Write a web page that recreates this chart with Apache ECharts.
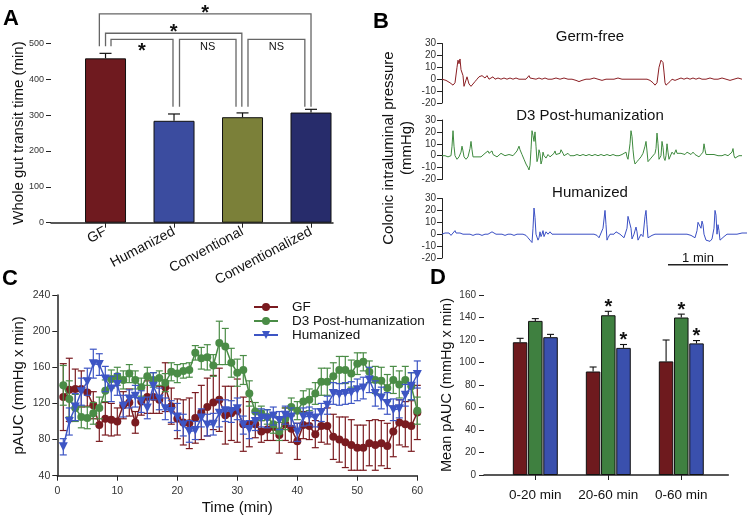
<!DOCTYPE html>
<html><head><meta charset="utf-8">
<script src="https://cdn.jsdelivr.net/npm/echarts@6/dist/echarts.min.js"></script>
<style>html,body{margin:0;padding:0;background:#fff}#c{width:750px;height:521px}</style>
</head><body><div id="c"></div><script>
const FF = '"Liberation Sans", Arial, Helvetica, sans-serif';

// ---------- Panel A ----------
const groupsA = ['GF', 'Humanized', 'Conventional', 'Conventionalized'];
const transitA = [458, 284, 294, 307];
const transitErrA = [14, 19, 12, 9];
const colorsA = ['#6f1a1f', '#3b4c9f', '#7b8039', '#272c6b'];
// significance brackets: x in group units, y in minutes
const bracketsA = [
  { x1: -0.09, x2: 3.0, top: 582, foot1: 492, foot2: 323, label: '*', below: false },
  { x1: 0.0, x2: 1.99, top: 528, foot1: 492, foot2: 323, label: '*', below: false },
  { x1: 0.08, x2: 0.985, top: 511, foot1: 492, foot2: 323, label: '*', below: true },
  { x1: 1.08, x2: 1.905, top: 511, foot1: 323, foot2: 323, label: 'NS', below: true },
  { x1: 2.08, x2: 2.91, top: 511, foot1: 323, foot2: 323, label: 'NS', below: true }
];

// ---------- Panel B (time in s, pressure in mmHg) ----------
const traceGF = [[0,0],[4,-1],[8,-3],[11,-5],[13,-3],[15,10],[16,16],[17,13],[18,17],[19,8],[20,9],[21,3],[22,-6],[23,-7],[25,2],[26,3],[27,-4],[29,-6],[31,-5],[33,-2],[35,0],[37,2],[39,1],[40,3],[41,2],[42,4],[43,1],[45,3],[47,0],[49,1],[51,2],[53,0],[56,1],[59,0],[62,1],[65,0],[68,1],[71,0],[74,1],[77,0],[80,0],[84,0],[86,1],[87,3],[88,1],[90,0],[94,0],[97,1],[100,0],[103,1],[106,0],[110,0],[114,1],[118,0],[122,1],[126,0],[130,0],[134,-1],[137,-2],[140,-1],[144,0],[148,0],[152,1],[156,0],[160,-1],[164,0],[168,0],[172,0],[176,1],[180,0],[185,0],[190,0],[195,0],[200,0],[205,0],[208,-1],[211,-3],[213,-5],[215,-3],[217,10],[219,16],[221,14],[222,6],[223,-3],[224,-5],[226,-4],[228,-2],[230,0],[233,-1],[236,0],[239,1],[242,0],[245,1],[248,0],[251,1],[254,0],[257,1],[260,0],[264,0],[268,1],[272,0],[276,0],[280,1],[284,0],[288,-1],[292,0],[296,1],[300,0]];
const traceD3 = [[0,0],[3,0],[6,-1],[9,0],[10,8],[11,21],[12,8],[13,0],[15,-3],[17,-1],[19,3],[20,8],[21,4],[22,-1],[24,-3],[26,-1],[28,6],[29,12],[30,5],[31,-1],[33,-2],[35,-1],[37,0],[39,-1],[41,0],[43,2],[44,3],[45,1],[46,4],[47,2],[48,3],[49,2],[50,4],[51,1],[53,0],[55,-1],[57,0],[59,2],[61,1],[63,0],[65,0],[67,1],[69,0],[71,0],[73,1],[75,4],[77,8],[78,5],[80,1],[82,-3],[84,-7],[86,-10],[87,-12],[88,-8],[89,5],[90,21],[91,17],[92,12],[93,20],[94,8],[95,-5],[96,-2],[97,5],[98,2],[99,-7],[100,-4],[101,3],[102,0],[104,-2],[106,1],[108,-1],[110,0],[112,2],[113,4],[114,1],[116,0],[118,2],[119,5],[120,6],[121,2],[122,0],[124,1],[126,2],[128,0],[130,1],[132,0],[135,1],[138,0],[141,1],[144,0],[147,1],[150,0],[153,1],[156,0],[159,1],[162,0],[165,1],[168,0],[171,1],[174,0],[177,0],[180,1],[182,2],[184,3],[185,-1],[186,-3],[188,10],[189,21],[190,16],[191,5],[192,-3],[193,-7],[195,-5],[197,-3],[199,-1],[201,2],[203,8],[204,12],[205,4],[206,-5],[207,-4],[209,-2],[211,-1],[213,2],[214,6],[215,19],[216,10],[217,-3],[218,-4],[219,0],[220,12],[221,7],[222,-2],[223,-4],[224,0],[225,10],[226,3],[227,-3],[228,-2],[230,3],[232,1],[234,5],[235,2],[237,1],[239,2],[241,3],[243,1],[245,3],[247,2],[249,1],[251,3],[253,1],[255,0],[257,-1],[259,1],[261,3],[262,10],[263,5],[264,1],[266,0],[268,1],[270,2],[272,1],[274,0],[276,0],[278,1],[280,0],[283,1],[286,0],[288,1],[290,3],[291,6],[292,0],[293,-2],[295,-1],[297,0],[300,0]];
const traceHum = [[0,0],[3,1],[5,0],[7,1],[9,-1],[11,1],[13,3],[14,1],[16,0],[18,1],[20,2],[21,0],[23,1],[25,0],[28,0],[31,-1],[34,0],[37,0],[40,-1],[43,0],[46,0],[48,1],[50,2],[52,1],[54,0],[57,0],[60,0],[63,-1],[66,0],[69,0],[72,-1],[75,0],[78,0],[81,0],[84,-1],[86,-3],[88,-5],[90,-7],[91,5],[92,22],[93,14],[94,0],[96,-5],[97,-3],[98,2],[99,-2],[100,0],[101,3],[102,-2],[103,-3],[104,2],[106,0],[108,2],[110,0],[113,0],[116,0],[120,0],[124,0],[128,0],[132,0],[136,0],[140,0],[144,0],[148,0],[152,0],[155,-1],[157,-3],[159,-2],[161,5],[163,20],[164,8],[165,-5],[166,-3],[168,0],[170,1],[172,0],[174,2],[176,1],[178,0],[180,-1],[182,-3],[184,-4],[185,5],[186,15],[188,14],[189,5],[190,-4],[191,-5],[192,0],[194,6],[195,2],[196,-5],[197,-4],[199,0],[201,-2],[203,15],[204,20],[205,8],[206,-3],[208,-2],[210,-1],[213,0],[216,0],[220,0],[225,0],[230,0],[235,0],[240,0],[245,0],[249,-1],[251,-2],[253,-3],[255,3],[256,10],[258,10],[259,5],[260,11],[261,8],[262,0],[264,-5],[266,-5],[268,-6],[270,-4],[272,5],[273,20],[274,16],[275,0],[276,8],[277,3],[278,-5],[280,-4],[282,-2],[285,0],[290,0],[295,0],[300,1],[305,1]];
const titlesB = ['Germ-free', 'D3 Post-humanization', 'Humanized'];
const scaleBarB = [226, 286]; // 60 s = 1 min

// ---------- Panel C ----------
const minutesC = [1,2,3,4,5,6,7,8,9,10,11,12,13,14,15,16,17,18,19,20,21,22,23,24,25,26,27,28,29,30,31,32,33,34,35,36,37,38,39,40,41,42,43,44,45,46,47,48,49,50,51,52,53,54,55,56,57,58,59,60];
const gfC = [127,135,136,136,132,118,96,103,102,100, 118,121,99,122,127,127,124,138,117,103, 99,98,104,110,116,121,124,107,109,112, 97,97,97,89,91,94,85,97,92,78, 96,95,86,95,95,83,80,77,74,71, 71,76,74,76,73,89,99,97,95,110];
const gfErrC = [37,35,22,20,15,15,18,18,18,15, 15,15,12,15,18,18,15,27,20,22, 25,28,28,30,32,30,35,32,30,35, 30,25,15,12,12,15,20,18,15,20, 15,15,15,18,20,25,25,28,28,25, 25,25,28,25,25,28,25,25,28,30];
const d3C = [140,125,115,105,104,109,115,134,147,150, 146,153,146,138,150,146,148,143,155,153, 156,157,176,170,171,162,187,183,165,154, 157,131,111,109,105,97,89,103,116,112, 122,124,131,144,144,150,157,157,153,164, 166,155,146,145,137,146,141,146,139,112];
const d3ErrC = [22,20,15,12,12,12,12,12,10,10, 10,10,10,10,10,8,8,10,10,10, 8,8,8,12,14,12,24,20,16,15, 16,14,10,8,8,10,10,12,10,10, 12,12,12,15,15,15,15,15,15,12, 10,12,15,15,15,15,15,15,15,15];
const humC = [72,100,116,133,144,164,163,147,136,141, 117,125,128,122,115,139,125,114,111,105, 96,89,90,104,96,97,109,112,111,114, 96,91,100,104,103,106,101,107,105,88, 105,106,104,110,118,131,130,131,132,135, 137,146,131,126,120,113,114,129,139,152];
const humErrC = [9,15,15,15,15,16,12,14,14,12, 12,10,12,12,12,15,12,12,12,15, 12,12,10,10,12,12,15,12,12,12, 10,10,10,10,10,10,10,10,10,10, 10,10,10,10,10,12,12,12,12,12, 12,14,14,12,12,12,10,12,15,15];
const namesC = ['GF', 'D3 Post-humanization', 'Humanized'];

// ---------- Panel D ----------
const periodsD = ['0-20 min', '20-60 min', '0-60 min'];
const gfD = [118, 92, 101];
const gfErrD = [3.5, 4, 19];
const d3D = [137, 142, 140];
const d3ErrD = [2, 3.5, 3];
const d3SigD = [0, 1, 1];
const humD = [122.5, 113, 117];
const humErrD = [2.5, 3, 2.5];
const humSigD = [0, 1, 1];

const RED = '#6e1a1e', GREEN = '#3f8040', BLUE = '#3a50ad';
const RED_C = '#7a1b20', GREEN_C = '#4a8c46', BLUE_C = '#3d55c4';

function txt(o) {
  return Object.assign({ align: o.align, verticalAlign: o.verticalAlign, textAlign: o.align, textVerticalAlign: o.verticalAlign }, o);
}

function errBars(name, xIdx, yIdx, xs, vals, errs, color, o) {
  const stars = o.stars || xs.map(() => 0);
  return {
    name: name, type: 'custom', xAxisIndex: xIdx, yAxisIndex: yIdx, z: o.z || 2, silent: true,
    data: xs.map((x, i) => [x, vals[i], errs[i]]),
    renderItem: function (params, api) {
      const x = api.value(0), v = api.value(1), e = api.value(2);
      const p1 = api.coord([x, v + e]);
      const p0 = api.coord([x, o.up ? v : v - e]);
      const cx = p1[0] + (o.dx || 0), hw = o.cap / 2;
      const st = () => ({ stroke: color, lineWidth: o.lw || 1 });
      const ch = [
        { type: 'line', shape: { x1: cx, y1: p0[1], x2: cx, y2: p1[1] }, style: st() },
        { type: 'line', shape: { x1: cx - hw, y1: p1[1], x2: cx + hw, y2: p1[1] }, style: st() }
      ];
      if (!o.up) ch.push({ type: 'line', shape: { x1: cx - hw, y1: p0[1], x2: cx + hw, y2: p0[1] }, style: st() });
      if (stars[params.dataIndex] === 1) ch.push({ type: 'text', x: cx, y: p1[1] - o.starGap,
        style: txt({ text: '*', font: 'bold 20px ' + FF, fill: '#111', align: 'center', verticalAlign: 'middle' }) });
      return { type: 'group', children: ch };
    }
  };
}

const idxA = groupsA.map((_, i) => i);
const idxD = periodsD.map((_, i) => i);

const tickLbl = (fs) => ({ fontSize: fs, color: '#333', fontFamily: FF });
const axisNm = (fs) => ({ fontSize: fs, color: '#111', fontFamily: FF });

const bAxisY = (gi) => ({
  gridIndex: gi, type: 'value', min: -20, max: 30, interval: 10,
  axisLine: { show: true, onZero: false, lineStyle: { color: '#222', width: 1 } },
  axisTick: { show: true, length: 5, lineStyle: { color: '#222' } },
  axisLabel: Object.assign({ margin: 6 }, tickLbl(10)), splitLine: { show: false }
});
const bAxisX = (gi) => ({ gridIndex: gi, type: 'value', min: 0, max: 305, show: false, axisLine: { onZero: false } });

const legendRow = (name, top) => ({
  data: [name], left: 253, top: top, orient: 'horizontal', itemWidth: 24, itemHeight: 10, padding: 0,
  textStyle: { fontSize: 13.5, color: '#111', fontFamily: FF, padding: [0, 0, 0, 9] }
});

const option = {
  animation: false,
  backgroundColor: '#fff',
  textStyle: { fontFamily: FF },
  grid: [
    { left: 51, top: 43.3, width: 282, height: 179.4 },     // 0 A values
    { left: 71.25, top: 43.3, width: 274, height: 179.4 },  // 1 A categories
    { left: 442, top: 43.5, width: 305, height: 59.5 },     // 2 B top
    { left: 442, top: 120, width: 305, height: 59.5 },      // 3 B mid
    { left: 442, top: 198.5, width: 305, height: 59.5 },    // 4 B bottom
    { left: 57.3, top: 295, width: 360, height: 180.7 },    // 5 C
    { left: 484, top: 295, width: 244.3, height: 180 },     // 6 D values
    { left: 498.8, top: 295, width: 219, height: 180 }      // 7 D categories
  ],
  xAxis: [
    { gridIndex: 0, type: 'value', min: -0.796, max: 3.321, axisLine: { show: true, onZero: false, lineStyle: { color: '#222', width: 1.5 } },
      axisTick: { show: false }, axisLabel: { show: false }, splitLine: { show: false } },
    { gridIndex: 1, type: 'category', data: groupsA, axisLine: { show: false, onZero: false },
      axisTick: { show: true, alignWithLabel: true, length: 5, lineStyle: { color: '#222' } },
      axisLabel: Object.assign({ rotate: 28, margin: 8, interval: 0 }, tickLbl(14), { color: '#111' }) },
    bAxisX(2), bAxisX(3), bAxisX(4),
    { gridIndex: 5, type: 'value', min: 0, max: 60, interval: 10,
      axisLine: { show: true, onZero: false, lineStyle: { color: '#222', width: 1.5 } },
      axisTick: { show: true, length: 5, lineStyle: { color: '#222' } },
      axisLabel: Object.assign({ margin: 10 }, tickLbl(10.5)), splitLine: { show: false },
      name: 'Time (min)', nameLocation: 'middle', nameGap: 25, nameMoveOverlap: false, nameTextStyle: axisNm(15) },
    { gridIndex: 6, type: 'value', min: -0.703, max: 2.644, axisLine: { show: true, onZero: false, lineStyle: { color: '#222', width: 1.5 } },
      axisTick: { show: false }, axisLabel: { show: false }, splitLine: { show: false } },
    { gridIndex: 7, type: 'category', data: periodsD, axisLine: { show: false, onZero: false },
      axisTick: { show: true, alignWithLabel: true, length: 5, lineStyle: { color: '#222' } },
      axisLabel: Object.assign({ margin: 13, interval: 0 }, tickLbl(13.5), { color: '#111' }) }
  ],
  yAxis: [
    { gridIndex: 0, type: 'value', min: 0, max: 500, interval: 100, axisLine: { show: false, onZero: false },
      axisTick: { show: true, length: 5, lineStyle: { color: '#222' } },
      axisLabel: Object.assign({ margin: 7 }, tickLbl(9)), splitLine: { show: false },
      name: 'Whole gut transit time (min)', nameLocation: 'middle', nameGap: 25, nameMoveOverlap: false, nameTextStyle: axisNm(15) },
    { gridIndex: 1, type: 'value', min: 0, max: 500, show: false, axisLine: { onZero: false } },
    bAxisY(2), bAxisY(3), bAxisY(4),
    { gridIndex: 5, type: 'value', min: 40, max: 240, interval: 40,
      axisLine: { show: true, onZero: false, lineStyle: { color: '#222', width: 1.5 } },
      axisTick: { show: true, length: 5, lineStyle: { color: '#222' } },
      axisLabel: Object.assign({ margin: 7 }, tickLbl(10.5)), splitLine: { show: false },
      name: 'pAUC (mmHg x min)', nameLocation: 'middle', nameGap: 31, nameMoveOverlap: false, nameTextStyle: axisNm(15) },
    { gridIndex: 6, type: 'value', min: 0, max: 160, interval: 20, axisLine: { show: false, onZero: false },
      axisTick: { show: true, length: 5, lineStyle: { color: '#222' } },
      axisLabel: Object.assign({ margin: 8 }, tickLbl(10)), splitLine: { show: false },
      name: 'Mean pAUC (mmHg x min)', nameLocation: 'middle', nameGap: 30, nameMoveOverlap: false, nameTextStyle: axisNm(14.5) },
    { gridIndex: 7, type: 'value', min: 0, max: 160, show: false, axisLine: { onZero: false } }
  ],
  legend: [legendRow(namesC[0], 300), legendRow(namesC[1], 314), legendRow(namesC[2], 328)],
  graphic: [
    { type: 'text', x: 3, y: 8, style: txt({ text: 'A', font: 'bold 22px ' + FF, fill: '#000', align: 'left', verticalAlign: 'top' }) },
    { type: 'text', x: 373, y: 11, style: txt({ text: 'B', font: 'bold 22px ' + FF, fill: '#000', align: 'left', verticalAlign: 'top' }) },
    { type: 'text', x: 2, y: 268, style: txt({ text: 'C', font: 'bold 22px ' + FF, fill: '#000', align: 'left', verticalAlign: 'top' }) },
    { type: 'text', x: 430, y: 267, style: txt({ text: 'D', font: 'bold 22px ' + FF, fill: '#000', align: 'left', verticalAlign: 'top' }) },
    { type: 'text', x: 590, y: 37, style: txt({ text: titlesB[0], font: '15px ' + FF, fill: '#111', align: 'center', verticalAlign: 'middle' }) },
    { type: 'text', x: 590, y: 116, style: txt({ text: titlesB[1], font: '15px ' + FF, fill: '#111', align: 'center', verticalAlign: 'middle' }) },
    { type: 'text', x: 590, y: 193, style: txt({ text: titlesB[2], font: '15px ' + FF, fill: '#111', align: 'center', verticalAlign: 'middle' }) },
    { type: 'text', x: 389, y: 148, rotation: Math.PI / 2, style: txt({ text: 'Colonic intraluminal pressure', font: '15px ' + FF, fill: '#111', align: 'center', verticalAlign: 'middle' }) },
    { type: 'text', x: 407, y: 148, rotation: Math.PI / 2, style: txt({ text: '(mmHg)', font: '15px ' + FF, fill: '#111', align: 'center', verticalAlign: 'middle' }) },
    { type: 'text', x: 698, y: 258, style: txt({ text: '1 min', font: '13px ' + FF, fill: '#111', align: 'center', verticalAlign: 'middle' }) }
  ],
  series: [
    // Panel A bars
    { name: 'transit', type: 'bar', xAxisIndex: 0, yAxisIndex: 0, barWidth: 41, z: 3,
      data: idxA.map(i => ({ value: [i, transitA[i]], itemStyle: { color: colorsA[i], borderColor: '#111', borderWidth: 1 } })) },
    errBars('transitErr', 0, 0, idxA, transitA, transitErrA, '#111', { up: true, cap: 12, lw: 1.2, z: 2 }),
    { name: 'brackets', type: 'custom', xAxisIndex: 0, yAxisIndex: 0, silent: true, z: 5,
      data: bracketsA.map(b => [b.x1, b.x2, b.top, b.foot1, b.foot2]),
      renderItem: function (params, api) {
        const b = bracketsA[params.dataIndex];
        const pL = api.coord([api.value(0), api.value(3)]), pTL = api.coord([api.value(0), api.value(2)]);
        const pTR = api.coord([api.value(1), api.value(2)]), pR = api.coord([api.value(1), api.value(4)]);
        const isStar = b.label === '*';
        const ty = isStar ? (b.below ? pTL[1] + 12 : pTL[1] - 0.5) : pTL[1] + 8;
        return { type: 'group', children: [
          { type: 'polyline', shape: { points: [pL, pTL, pTR, pR] }, style: { stroke: '#666', lineWidth: 1.3, fill: null } },
          { type: 'text', x: (pTL[0] + pTR[0]) / 2, y: ty,
            style: txt({ text: b.label, font: (isStar ? 'bold 20px ' : '11px ') + FF, fill: '#111', align: 'center', verticalAlign: 'middle' }) }
        ] };
      } },
    // Panel B traces
    { name: 'traceGF', type: 'line', xAxisIndex: 2, yAxisIndex: 2, data: traceGF, showSymbol: false, lineStyle: { color: '#8b1f24', width: 1 }, itemStyle: { color: '#8b1f24' } },
    { name: 'traceD3', type: 'line', xAxisIndex: 3, yAxisIndex: 3, data: traceD3, showSymbol: false, lineStyle: { color: '#3e8a3e', width: 1 }, itemStyle: { color: '#3e8a3e' } },
    { name: 'traceHum', type: 'line', xAxisIndex: 4, yAxisIndex: 4, data: traceHum, showSymbol: false, lineStyle: { color: '#3a4fc4', width: 1 }, itemStyle: { color: '#3a4fc4' } },
    { name: 'scaleBar', type: 'line', xAxisIndex: 4, yAxisIndex: 4, clip: false, showSymbol: false,
      data: scaleBarB.map(t => [t, -25.6]), lineStyle: { color: '#222', width: 1.5 } },
    // Panel C
    errBars('gfErrC', 5, 5, minutesC, gfC, gfErrC, RED_C, { cap: 7, lw: 1.2, z: 2 }),
    { name: namesC[0], type: 'line', xAxisIndex: 5, yAxisIndex: 5, z: 3, data: minutesC.map((t, i) => [t, gfC[i]]),
      symbol: 'circle', symbolSize: 8, lineStyle: { color: RED_C, width: 1.5 }, itemStyle: { color: RED_C } },
    errBars('d3ErrC', 5, 5, minutesC, d3C, d3ErrC, GREEN_C, { cap: 7, lw: 1.2, z: 4 }),
    { name: namesC[1], type: 'line', xAxisIndex: 5, yAxisIndex: 5, z: 5, data: minutesC.map((t, i) => [t, d3C[i]]),
      symbol: 'circle', symbolSize: 8, lineStyle: { color: GREEN_C, width: 1.5 }, itemStyle: { color: GREEN_C } },
    errBars('humErrC', 5, 5, minutesC, humC, humErrC, BLUE_C, { cap: 7, lw: 1.2, z: 6 }),
    { name: namesC[2], type: 'line', xAxisIndex: 5, yAxisIndex: 5, z: 7, data: minutesC.map((t, i) => [t, humC[i]]),
      symbol: 'triangle', symbolRotate: 180, symbolSize: 9, lineStyle: { color: BLUE_C, width: 1.5 }, itemStyle: { color: BLUE_C } },
    // Panel D
    { name: 'gfD', type: 'bar', xAxisIndex: 6, yAxisIndex: 6, barWidth: 14.5, barGap: '5%', z: 3,
      data: idxD.map(i => [i, gfD[i]]), itemStyle: { color: RED, borderColor: '#111', borderWidth: 1 } },
    { name: 'd3D', type: 'bar', xAxisIndex: 6, yAxisIndex: 6, barWidth: 14.5, barGap: '5%', z: 3,
      data: idxD.map(i => [i, d3D[i]]), itemStyle: { color: GREEN, borderColor: '#111', borderWidth: 1 } },
    { name: 'humD', type: 'bar', xAxisIndex: 6, yAxisIndex: 6, barWidth: 14.5, barGap: '5%', z: 3,
      data: idxD.map(i => [i, humD[i]]), itemStyle: { color: BLUE, borderColor: '#111', borderWidth: 1 } },
    errBars('gfErrD', 6, 6, idxD, gfD, gfErrD, '#111', { up: true, cap: 7, lw: 1.1, dx: -15.2, z: 2 }),
    errBars('d3ErrD', 6, 6, idxD, d3D, d3ErrD, '#111', { up: true, cap: 7, lw: 1.1, dx: 0, z: 2, stars: d3SigD, starGap: 4 }),
    errBars('humErrD', 6, 6, idxD, humD, humErrD, '#111', { up: true, cap: 7, lw: 1.1, dx: 15.2, z: 2, stars: humSigD, starGap: 4 })
  ]
};

const chart = echarts.init(document.getElementById('c'), null, { renderer: 'canvas', width: 750, height: 521 });
chart.setOption(option);
</script></body></html>
